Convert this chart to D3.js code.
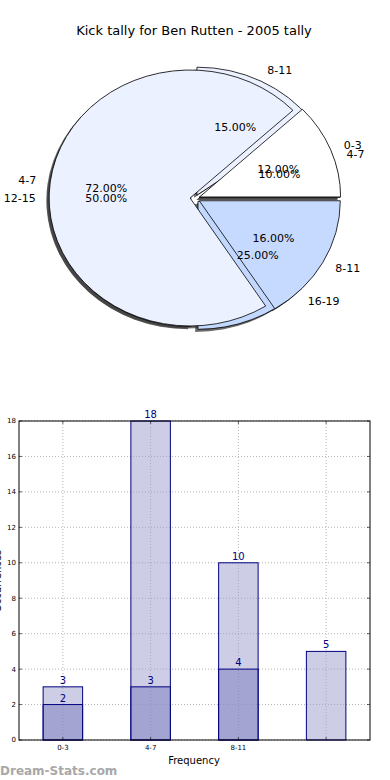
<!DOCTYPE html>
<html><head><meta charset="utf-8">
<script src="https://cdn.jsdelivr.net/npm/d3@7"></script>
<style>
body{margin:0;background:#fff;}
svg{display:block;font-family:"DejaVu Sans",sans-serif;}
</style></head>
<body>
<svg id="c" width="390" height="780"></svg>
<script>
// ---- data ----
const title = "Kick tally for Ben Rutten - 2005 tally";
const pieALabels = ["0-3", "4-7", "8-11"];
const pieAValues = [12, 72, 16];
const pieAColors = ["#ffffff", "#ebf1ff", "#c6d9ff"];
const pieBLabels = ["4-7", "8-11", "12-15", "16-19"];
const pieBValues = [10, 15, 50, 25];
const pieBColors = ["#ffffff", "#ebf1ff", "#ebf1ff", "#c2d8ff"];

const barCategories = ["0-3", "4-7", "8-11", ""];
const barLight = [3, 18, 10, 5];
const barDark = [2, 3, 4, null];
const yTicks = [0, 2, 4, 6, 8, 10, 12, 14, 16, 18];

const svg = d3.select("#c");
svg.append("rect").attr("width",390).attr("height",780).attr("fill","#fff");

svg.append("text").attr("x",194).attr("y",35).attr("text-anchor","middle")
  .attr("font-size",13).attr("fill","#000").text(title);

// ---- pies ----
const cx = 195, cy = 198.6, rx = 141, ry = 128;
const pieGen = d3.pie().sort(null).startAngle(Math.PI/2).endAngle(Math.PI/2 - 2*Math.PI);
const arc = d3.arc().innerRadius(0).outerRadius(1);

function prep(values, labels, colors, explode){
  return pieGen(values).map((d,i)=>{
    const m = (d.startAngle + d.endAngle)/2;
    const ux = Math.sin(m), uy = -Math.cos(m);
    return {d, label:labels[i], color:colors[i], ux, uy,
      dx: explode*ux*rx, dy: explode*uy*ry, explode, pct: d.value/d3.sum(values)*100};
  });
}
const A = prep(pieAValues, pieALabels, pieAColors, 0.035);
const B = prep(pieBValues, pieBLabels, pieBColors, 0.03);

const gPie = svg.append("g");
const shOff = [-0.02*rx, 0.02*ry];
// shadows
[...B, ...A].forEach(w=>{
  gPie.append("path").attr("d", arc(w.d))
    .attr("transform",`translate(${cx+w.dx+shOff[0]},${cy+w.dy+shOff[1]}) scale(${rx},${ry})`)
    .attr("fill","#3a3a3a").attr("fill-opacity",0.75).attr("stroke","none");
});
// wedges
[...B, ...A].forEach(w=>{
  gPie.append("path").attr("d", arc(w.d))
    .attr("transform",`translate(${cx+w.dx},${cy+w.dy}) scale(${rx},${ry})`)
    .attr("fill",w.color).attr("stroke","#000").attr("stroke-width",0.8)
    .attr("vector-effect","non-scaling-stroke").attr("stroke-linejoin","miter");
});
// labels
[...A, ...B].forEach(w=>{
  const bx = cx + w.dx, by = cy + w.dy;
  gPie.append("text").attr("x", bx + 1.1*w.ux*rx).attr("y", by + 1.1*w.uy*ry)
    .attr("dy","0.35em").attr("font-size",11)
    .attr("text-anchor", w.ux > 1e-9 ? "start" : "end").text(w.label);
  gPie.append("text").attr("x", bx + 0.6*w.ux*rx).attr("y", by + 0.6*w.uy*ry)
    .attr("dy","0.35em").attr("font-size",11).attr("text-anchor","middle")
    .text(w.pct.toFixed(2)+"%");
});

// ---- bars ----
const L = 19, R = 370, T = 421, Bt = 740;
const x = d3.scaleLinear().domain([-0.5, 3.5]).range([L, R]);
const y = d3.scaleLinear().domain([0, 18]).range([Bt, T]);
const bw = 0.45;
const gb = svg.append("g");

// grid
gb.selectAll(".gy").data(yTicks).join("line")
  .attr("x1",L).attr("x2",R).attr("y1",d=>y(d)).attr("y2",d=>y(d))
  .attr("stroke","#b5b5b5").attr("stroke-width",1).attr("stroke-dasharray","1,2");
gb.selectAll(".gx").data(barCategories.map((c,i)=>i)).join("line")
  .attr("x1",d=>x(d)).attr("x2",d=>x(d)).attr("y1",T).attr("y2",Bt)
  .attr("stroke","#b5b5b5").attr("stroke-width",1).attr("stroke-dasharray","1,2");

// light bars
gb.selectAll(".bl").data(barLight).join("rect")
  .attr("x",(d,i)=>x(i-bw/2)).attr("width",x(bw)-x(0))
  .attr("y",d=>y(d)).attr("height",d=>y(0)-y(d))
  .attr("fill","#9b9bce").attr("fill-opacity",0.5).attr("stroke","#000080").attr("stroke-width",1);
// dark bars
const darkData = barDark.map((v,i)=>({v,i})).filter(d=>d.v!=null);
gb.selectAll(".bd").data(darkData).join("rect")
  .attr("x",d=>x(d.i-bw/2)).attr("width",x(bw)-x(0))
  .attr("y",d=>y(d.v)).attr("height",d=>y(0)-y(d.v))
  .attr("fill","#7b7bbf").attr("fill-opacity",0.5).attr("stroke","#000080").attr("stroke-width",1);

// value labels
barLight.forEach((v,i)=>{
  gb.append("text").attr("x",x(i)).attr("y",y(v)-3).attr("text-anchor","middle")
    .attr("font-size",10).attr("fill","#000080").text(v);
});
darkData.forEach(d=>{
  gb.append("text").attr("x",x(d.i)).attr("y",y(d.v)-3).attr("text-anchor","middle")
    .attr("font-size",10).attr("fill","#000080").text(d.v);
});

// frame
gb.append("rect").attr("x",L).attr("y",T).attr("width",R-L).attr("height",Bt-T)
  .attr("fill","none").attr("stroke","#000").attr("stroke-width",1);

// y ticks
yTicks.forEach(t=>{
  gb.append("line").attr("x1",L).attr("x2",L+3).attr("y1",y(t)).attr("y2",y(t)).attr("stroke","#000").attr("stroke-width",0.6);
  gb.append("line").attr("x1",R-3).attr("x2",R).attr("y1",y(t)).attr("y2",y(t)).attr("stroke","#000").attr("stroke-width",0.6);
  gb.append("text").attr("x",L-3).attr("y",y(t)).attr("dy","0.35em").attr("text-anchor","end")
    .attr("font-size",7).attr("fill","#000").text(t);
});
// x ticks
barCategories.forEach((c,i)=>{
  gb.append("line").attr("x1",x(i)).attr("x2",x(i)).attr("y1",Bt).attr("y2",Bt-3).attr("stroke","#000").attr("stroke-width",0.6);
  gb.append("line").attr("x1",x(i)).attr("x2",x(i)).attr("y1",T).attr("y2",T+3).attr("stroke","#000").attr("stroke-width",0.6);
  gb.append("text").attr("x",x(i)).attr("y",Bt+10).attr("text-anchor","middle")
    .attr("font-size",7).attr("fill","#000").text(c);
});

gb.append("text").attr("x",194).attr("y",764).attr("text-anchor","middle")
  .attr("font-size",10).text("Frequency");
gb.append("text").attr("transform","translate(1,581) rotate(-90)").attr("text-anchor","middle")
  .attr("font-size",10).text("Occurrences");

svg.append("text").attr("x",0).attr("y",775).attr("font-size",12).attr("font-weight","bold")
  .attr("fill","#a8a8a8").text("Dream-Stats.com");
</script>
</body></html>
